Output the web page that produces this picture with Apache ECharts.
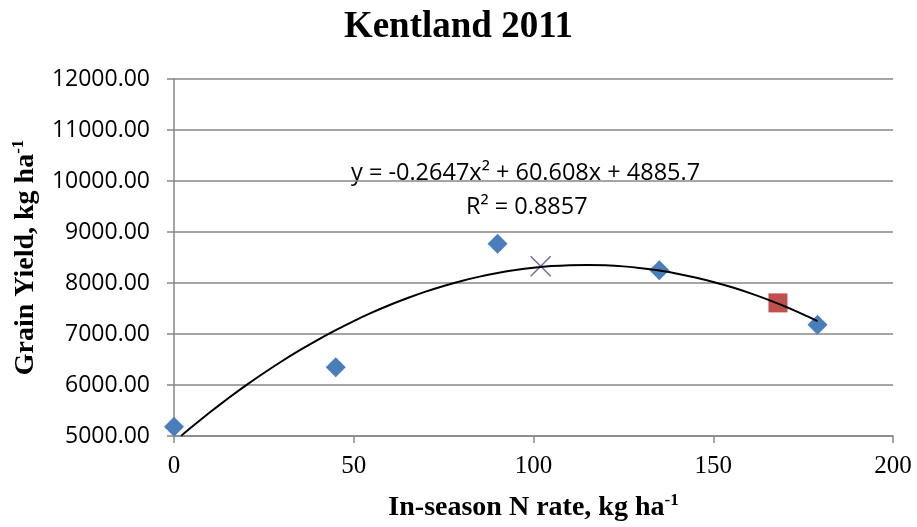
<!DOCTYPE html>
<html>
<head>
<meta charset="utf-8">
<script src="https://cdn.jsdelivr.net/npm/echarts@6/dist/echarts.min.js"></script>
<style>html,body{margin:0;padding:0;background:#fff}#c{width:917px;height:527px}</style>
</head>
<body>
<div id="c"></div>
<script>
// ---- data ----
const titleText = 'Kentland 2011';
const nRate = [0, 45, 90, 135, 179];
const grainYield = [5180, 6350, 8770, 8250, 7180];
const squareN = [168];
const squareYield = [7610];
const crossN = [102];
const crossYield = [8330];
const trendN = [2, 5, 10, 15, 20, 25, 30, 35, 40, 45, 50, 55, 60, 65, 70, 75, 80, 85, 90, 95, 100, 105, 110, 115, 120, 125, 130, 135, 140, 145, 150, 155, 160, 165, 170, 175, 179];
const trendYield = [5006, 5181, 5465, 5735, 5992, 6235, 6466, 6683, 6887, 7077, 7254, 7418, 7569, 7706, 7831, 7942, 8040, 8125, 8196, 8255, 8300, 8332, 8350, 8355, 8347, 8326, 8291, 8243, 8183, 8108, 8021, 7921, 7807, 7680, 7539, 7386, 7253];
const equationText = 'y = -0.2647x² + 60.608x + 4885.7';
const r2Text = 'R² = 0.8857';

const pairs = (xs, ys) => xs.map((x, i) => [x, ys[i]]);

const serif = '"Liberation Serif", "Times New Roman", serif';
const sans = '"Open Sans", "Noto Sans", sans-serif';
const gridColor = '#878787';

const nameRich = {
  b: { fontFamily: serif, fontWeight: 'bold', fontSize: 28, color: '#000', lineHeight: 32 },
  s: { fontFamily: serif, fontWeight: 'bold', fontSize: 17, color: '#000', verticalAlign: 'top', lineHeight: 32 }
};

const chart = echarts.init(document.getElementById('c'));
chart.setOption({
  animation: false,
  backgroundColor: '#fff',
  title: {
    text: titleText, left: 'center', top: 4,
    textStyle: { fontFamily: serif, fontWeight: 'bold', fontSize: 37, color: '#000' }
  },
  grid: { left: 174, right: 24, top: 79, bottom: 89.5 },
  xAxis: {
    type: 'value', min: 0, max: 200, interval: 50,
    name: '{b|In-season N rate, kg ha}{s|-1}',
    nameLocation: 'middle', nameGap: 56,
    nameTextStyle: { rich: nameRich },
    axisLine: { show: true, lineStyle: { color: gridColor, width: 1.5 } },
    axisTick: { show: true, length: 7, lineStyle: { color: gridColor, width: 1.5 } },
    splitLine: { show: false },
    axisLabel: { fontFamily: serif, fontSize: 25, color: '#000', margin: 18 }
  },
  yAxis: {
    type: 'value', min: 5000, max: 12000, interval: 1000,
    name: '{b|Grain Yield, kg ha}{s|-1}',
    nameLocation: 'middle', nameGap: 132, nameRotate: 90,
    nameTextStyle: { rich: nameRich },
    axisLine: { show: true, lineStyle: { color: gridColor, width: 1.5 } },
    axisTick: { show: true, length: 7, lineStyle: { color: gridColor, width: 1.5 } },
    splitLine: { show: true, lineStyle: { color: gridColor, width: 1.5 } },
    axisLabel: { fontFamily: sans, fontSize: 23, color: '#000', margin: 24,
      formatter: v => v.toFixed(2) }
  },
  graphic: [
    { type: 'text', left: 351, top: 161, style: { text: equationText, fontFamily: sans, fontSize: 23.5, fill: '#000' } },
    { type: 'text', left: 466, top: 195, style: { text: r2Text, fontFamily: sans, fontSize: 23.5, fill: '#000' } }
  ],
  series: [
    {
      type: 'scatter', data: pairs(nRate, grainYield),
      symbol: 'diamond', symbolSize: [20, 20],
      itemStyle: { color: '#4A7EBB', opacity: 1 }
    },
    {
      type: 'scatter', data: pairs(squareN, squareYield),
      symbol: 'rect', symbolSize: 19,
      itemStyle: { color: '#C0504D', opacity: 1 }
    },
    {
      type: 'scatter', data: pairs(crossN, crossYield),
      symbol: 'path://M0,0L10,10M10,0L0,10', symbolSize: 20,
      itemStyle: { color: 'none', borderColor: '#8064A2', borderWidth: 1.5, opacity: 1 }
    },
    {
      type: 'line', data: pairs(trendN, trendYield), smooth: 0.2,
      showSymbol: false, symbol: 'none',
      lineStyle: { color: '#000', width: 2 }
    }
  ]
});
</script>
</body>
</html>
